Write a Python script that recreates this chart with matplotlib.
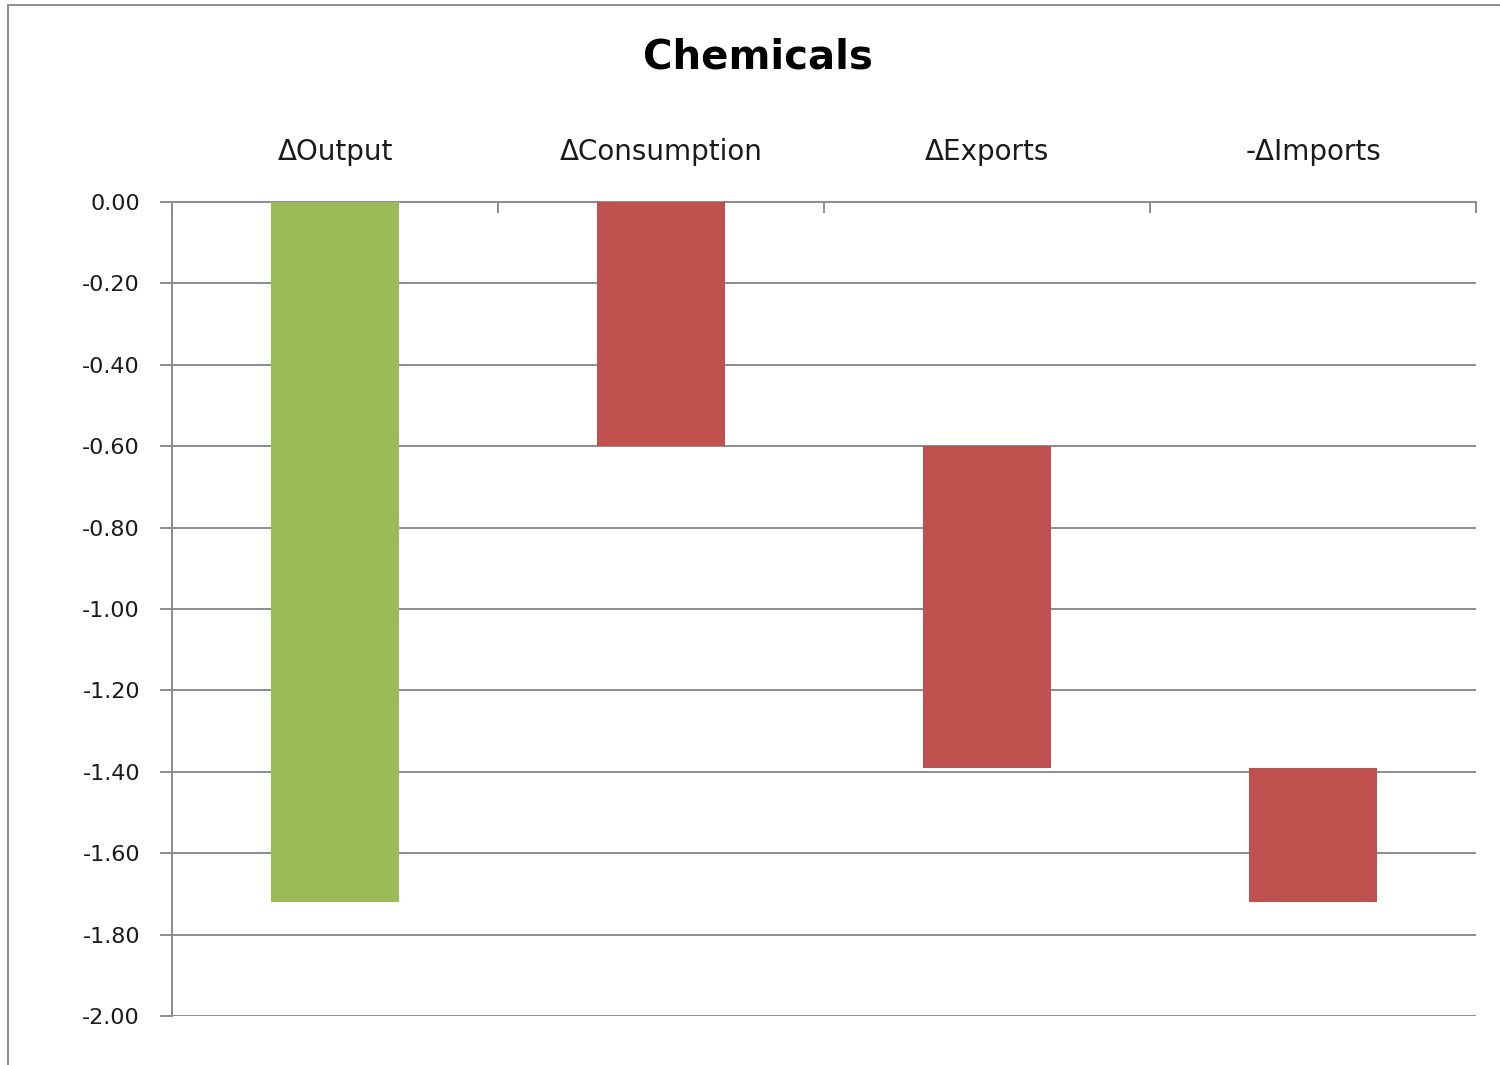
import numpy as np
import matplotlib
matplotlib.use('Agg')
import matplotlib.pyplot as plt
from matplotlib.patches import Rectangle

# change in output and its decomposition
categories = ['ΔOutput', 'ΔConsumption', 'ΔExports', '-ΔImports']
changes = [-1.72, -0.60, -0.79, -0.33]
colors = ['#9BBB59', '#C0504D', '#C0504D', '#C0504D']

# output bar hangs from zero, the components stack one after another
components = np.array(changes[1:])
starts = [0.0] + list(np.concatenate([[0.0], np.cumsum(components)[:-1]]))

fig = plt.figure(figsize=(15, 10.65), dpi=100)
ax = fig.add_axes([0.1147, 0.046, 0.8693, 0.7643])

x = np.arange(len(categories))
ax.bar(x, changes, bottom=starts, width=0.39, color=colors, zorder=3)

ax.set_xlim(-0.5, len(categories) - 0.5)
ax.set_ylim(-2.0, 0.0)
ax.set_yticks(np.arange(-2.0, 0.01, 0.2))
ax.yaxis.set_major_formatter(
    matplotlib.ticker.FuncFormatter(lambda v, pos: '%.2f' % (v + 0.0 if abs(v) > 1e-9 else 0.0)))
ax.grid(axis='y', color='#8c8c8c', linewidth=1.4, zorder=0)
ax.tick_params(axis='y', direction='out', length=9, width=1.4, color='#8c8c8c',
               labelsize=16, pad=14, labelcolor='#1a1a1a')

# category names sit above the zero line, ticks between categories
ax.xaxis.tick_top()
ax.set_xticks(np.arange(-0.5, len(categories)), minor=False)
ax.set_xticklabels([])
ax.set_xticks(x, minor=True)
ax.set_xticklabels(categories, minor=True, fontsize=20, color='#1a1a1a')
ax.tick_params(axis='x', which='major', direction='in', length=8, width=1.4,
               color='#8c8c8c', top=True, bottom=False)
ax.tick_params(axis='x', which='minor', length=0, pad=26, top=True, bottom=False)

for side in ['right', 'bottom']:
    ax.spines[side].set_visible(False)
for side in ['left', 'top']:
    ax.spines[side].set_color('#8c8c8c')
    ax.spines[side].set_linewidth(1.4)

fig.text(0.505, 0.946, 'Chemicals', ha='center', va='center',
         fontsize=29, fontweight='bold', color='black')

# chart area frame
fig.add_artist(Rectangle((0.0053, -0.05), 1.1, 1.0453, transform=fig.transFigure,
                         fill=False, edgecolor='#8c8c8c', linewidth=1.4))

fig.savefig('out.png', dpi=100)
